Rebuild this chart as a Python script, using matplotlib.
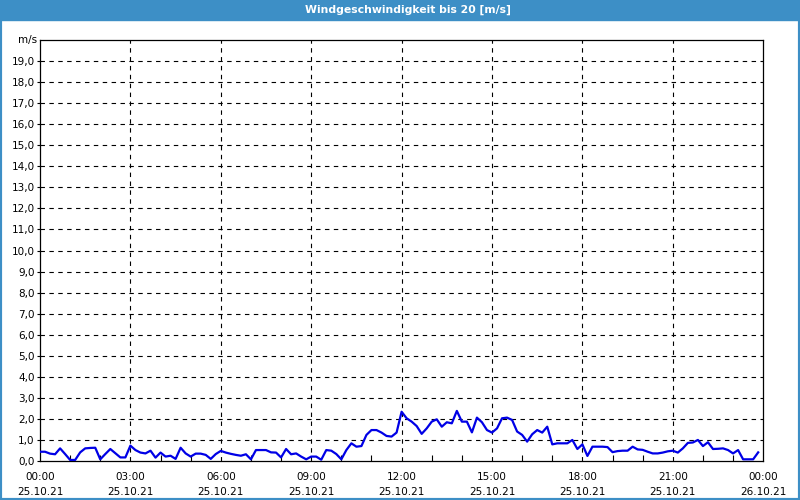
import numpy as np
import matplotlib
matplotlib.use("Agg")
import matplotlib.pyplot as plt
from matplotlib.patches import Rectangle
from matplotlib.ticker import MultipleLocator

# wind speed, one reading every 10 minutes from 25.10.21 00:00
speed = [0.44, 0.44, 0.35, 0.32, 0.60, 0.33, 0.05, 0.05, 0.41, 0.60, 0.62, 0.63,
         0.08, 0.33, 0.57, 0.37, 0.17, 0.17, 0.73, 0.52, 0.40, 0.36, 0.49, 0.16,
         0.40, 0.21, 0.25, 0.10, 0.63, 0.36, 0.21, 0.35, 0.35, 0.29, 0.10, 0.33,
         0.48, 0.40, 0.34, 0.29, 0.25, 0.32, 0.08, 0.52, 0.52, 0.52, 0.41, 0.40,
         0.17, 0.57, 0.32, 0.36, 0.21, 0.08, 0.21, 0.21, 0.06, 0.52, 0.49, 0.33,
         0.08, 0.52, 0.84, 0.68, 0.71, 1.24, 1.47, 1.47, 1.35, 1.19, 1.16, 1.35,
         2.34, 2.03, 1.87, 1.66, 1.29, 1.55, 1.87, 1.98, 1.63, 1.84, 1.79, 2.38,
         1.87, 1.87, 1.36, 2.06, 1.84, 1.47, 1.35, 1.55, 2.03, 2.06, 1.95, 1.40,
         1.24, 0.92, 1.27, 1.47, 1.35, 1.63, 0.79, 0.84, 0.84, 0.84, 1.00, 0.57,
         0.79, 0.24, 0.68, 0.68, 0.68, 0.66, 0.42, 0.47, 0.49, 0.49, 0.68, 0.55,
         0.53, 0.44, 0.36, 0.36, 0.40, 0.46, 0.49, 0.40, 0.60, 0.86, 0.88, 1.00,
         0.71, 0.89, 0.57, 0.58, 0.60, 0.52, 0.36, 0.52, 0.08, 0.08, 0.08, 0.41]
step_min = 10

tick_hours = [0, 3, 6, 9, 12, 15, 18, 21, 24]
tick_labels = ["00:00\n25.10.21", "03:00\n25.10.21", "06:00\n25.10.21",
               "09:00\n25.10.21", "12:00\n25.10.21", "15:00\n25.10.21",
               "18:00\n25.10.21", "21:00\n25.10.21", "00:00\n26.10.21"]
y_ticks = list(range(0, 20))
y_labels = [f"{v},0" for v in y_ticks]
title = "Windgeschwindigkeit bis 20 [m/s]"

hours = np.arange(len(speed)) * step_min / 60.0

blue_frame = "#3d8fc6"
plt.rcParams["font.family"] = ["DejaVu Sans"]

fig = plt.figure(figsize=(8, 5), dpi=100)
fig.patch.set_facecolor("white")

# title bar and window border
fig.patches.append(Rectangle((0, 0.96), 1, 0.04, transform=fig.transFigure,
                             color=blue_frame, zorder=0))
fig.patches.append(Rectangle((0, 0), 1, 1, transform=fig.transFigure,
                             fill=False, edgecolor=blue_frame, linewidth=3, zorder=0))
fig.text(0.51, 0.98, title, color="white", fontsize=7.8, fontweight="bold",
         ha="center", va="center")

ax = fig.add_axes([0.05, 0.078, 0.904, 0.842])
ax.plot(hours, speed, color="#0000e6", linewidth=1.6, zorder=3)

ax.set_xlim(0, 24)
ax.set_ylim(0, 20)
ax.set_xticks(tick_hours)
ax.set_xticklabels(tick_labels, fontsize=7.5, linespacing=1.55)
ax.xaxis.set_minor_locator(MultipleLocator(1))
ax.set_yticks(y_ticks)
ax.set_yticklabels(y_labels, fontsize=7.5)
ax.tick_params(axis="x", which="major", length=0, pad=8)
ax.tick_params(axis="x", which="minor", direction="in", length=4, width=0.8)
ax.tick_params(axis="y", which="major", length=2, width=0.8, pad=2)

for h in tick_hours[1:-1]:
    ax.axvline(h, color="black", linewidth=0.8, linestyle=(0, (4, 4)), zorder=1)
for v in y_ticks[1:]:
    ax.axhline(v, color="black", linewidth=0.8, linestyle=(0, (4, 4)), zorder=1)

ax.text(-0.004, 20, "m/s", transform=ax.get_yaxis_transform(), fontsize=7.5,
        ha="right", va="center")

for s in ax.spines.values():
    s.set_linewidth(0.9)

fig.savefig("out.png", dpi=100)
